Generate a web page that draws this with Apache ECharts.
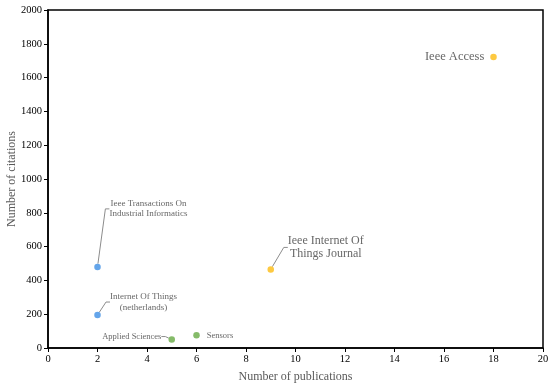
<!DOCTYPE html>
<html><head><meta charset="utf-8">
<script src="https://cdn.jsdelivr.net/npm/echarts@6/dist/echarts.min.js"></script>
<style>html,body{margin:0;padding:0;background:#fff}#c{width:550px;height:388px}</style>
</head><body><div id="c"></div>
<script>
const journals = ['Ieee Access', 'Ieee Internet Of\nThings Journal', 'Ieee Transactions On\nIndustrial Informatics', 'Internet Of Things\n(netherlands)', 'Applied Sciences', 'Sensors'];
const publications = [18, 9, 2, 2, 5, 6];
const citations = [1722, 465, 480, 195, 50, 75];
const groups = [0, 0, 1, 1, 2, 2];
const xTicks = [0, 2, 4, 6, 8, 10, 12, 14, 16, 18, 20];
const yTicks = [0, 200, 400, 600, 800, 1000, 1200, 1400, 1600, 1800, 2000];

const colors = ['#fdbb12', '#3d8fe5', '#66aa44'];
const labelStyles = [
  {position: 'left', distance: 6, fontSize: 12.5, line: false},
  {position: 'inside', fontSize: 12, dx: 55, dy: -22, line: true},
  {position: 'inside', fontSize: 9, dx: 51, dy: -58, line: true},
  {position: 'inside', fontSize: 9, dx: 46, dy: -13, line: true},
  {position: 'inside', fontSize: 8.5, dx: -40, dy: -3, line: true},
  {position: 'right', distance: 7, fontSize: 8.5, line: false}
];
const font = '"Liberation Serif", "Times New Roman", serif';

const data = journals.map((n, i) => {
  const s = labelStyles[i];
  return {
    name: n,
    value: [publications[i], citations[i]],
    itemStyle: {color: colors[groups[i]]},
    label: {show: true, formatter: '{b}', position: s.position, distance: s.distance || 5,
      fontSize: s.fontSize, fontFamily: font, color: '#404040', align: s.position === 'inside' ? 'center' : undefined,
      lineHeight: s.fontSize * 1.15},
    labelLine: {show: s.line, length2: 4, lineStyle: {color: '#8c8c8c', width: 1}}
  };
});

const chart = echarts.init(document.getElementById('c'), null, {renderer: 'canvas'});
chart.setOption({
  animation: false,
  grid: {left: 48, right: 7, top: 10, bottom: 40, containLabel: false, outerBoundsMode: 'none',
    show: true, borderColor: '#000', borderWidth: 1.5},
  xAxis: {
    type: 'value', min: xTicks[0], max: xTicks[xTicks.length - 1], interval: 2,
    name: 'Number of publications', nameLocation: 'middle', nameGap: 23, nameMoveOverlap: false,
    nameTextStyle: {fontFamily: font, fontSize: 12, color: '#595959'},
    axisLine: {show: true, lineStyle: {color: '#000', width: 1.5}},
    axisTick: {show: true, length: 4, lineStyle: {color: '#000'}},
    axisLabel: {fontFamily: font, fontSize: 10.5, color: '#000', margin: 6, formatter: v => String(v)},
    splitLine: {show: false}
  },
  yAxis: {
    type: 'value', min: yTicks[0], max: yTicks[yTicks.length - 1], interval: 200,
    name: 'Number of citations', nameLocation: 'middle', nameGap: 30, nameMoveOverlap: false,
    nameTextStyle: {fontFamily: font, fontSize: 12, color: '#595959'},
    axisLine: {show: true, lineStyle: {color: '#000', width: 1.5}},
    axisTick: {show: true, length: 4, lineStyle: {color: '#000'}},
    axisLabel: {fontFamily: font, fontSize: 10.5, color: '#000', margin: 6, formatter: v => String(v)},
    splitLine: {show: false}
  },
  series: [{
    type: 'scatter',
    symbolSize: 6.5,
    data: data,
    labelLayout: function (p) {
      const s = labelStyles[p.dataIndex];
      return (s.dx !== undefined) ? {dx: s.dx, dy: s.dy} : {};
    }
  }]
});
</script></body></html>
